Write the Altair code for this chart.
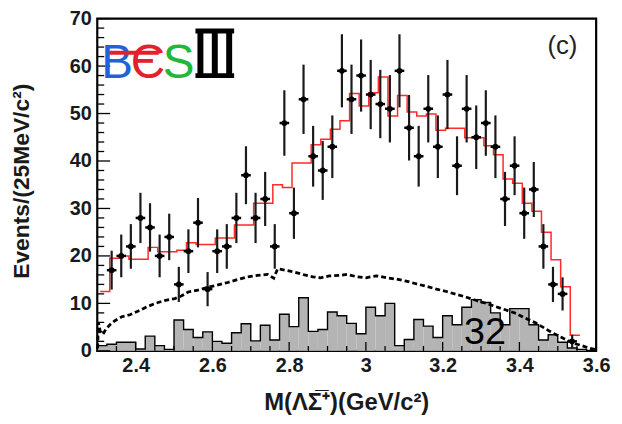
import altair as alt
import pandas as pd

# ---------------- data ----------------
data_x = [2.3375, 2.3625, 2.3875, 2.4125, 2.4375, 2.4625, 2.4875, 2.5125, 2.5375, 2.5625,
          2.5875, 2.6125, 2.6375, 2.6625, 2.6875, 2.7125, 2.7375, 2.7625, 2.7875, 2.8125,
          2.8375, 2.8625, 2.8875, 2.9125, 2.9375, 2.9625, 2.9875, 3.0125, 3.0375, 3.0625,
          3.0875, 3.1125, 3.1375, 3.1625, 3.1875, 3.2125, 3.2375, 3.2625, 3.2875, 3.3125,
          3.3375, 3.3625, 3.3875, 3.4125, 3.4375, 3.4625, 3.4875, 3.5125, 3.5375]
data_y = [17, 20, 22, 28, 26, 20, 24, 14, 21, 27,
          13, 21, 22, 28, 37, 28, 32, 22, 48, 29,
          53, 41, 38, 43, 59, 53, 58, 54, 52, 51,
          59, 47, 41, 51, 43, 54, 39, 51, 45, 48,
          43, 32, 39, 29, 34, 22, 14, 12, 2]
data_err = [4.1, 4.5, 4.7, 5.3, 5.1, 4.5, 4.9, 3.7, 4.6, 5.2,
            3.6, 4.6, 4.7, 5.3, 6.1, 5.3, 5.7, 4.7, 6.9, 5.4,
            7.3, 6.4, 6.2, 6.6, 7.7, 7.3, 7.6, 7.3, 7.2, 7.1,
            7.7, 6.9, 6.4, 7.1, 6.6, 7.3, 6.2, 7.1, 6.7, 6.9,
            6.6, 5.7, 6.2, 5.4, 5.8, 4.7, 3.7, 3.5, 1.4]

fit_edges = [2.3075, 2.3325, 2.3575, 2.3825, 2.4075, 2.4325, 2.4575, 2.4825, 2.5075, 2.5325,
             2.5575, 2.5825, 2.6075, 2.6325, 2.6575, 2.6825, 2.7075, 2.7325, 2.7575, 2.7825,
             2.8075, 2.8325, 2.8575, 2.8825, 2.9075, 2.9325, 2.9575, 2.9825, 3.0075, 3.0325,
             3.0575, 3.0825, 3.1075, 3.1325, 3.1575, 3.1825, 3.2075, 3.2325, 3.2575, 3.2825,
             3.3075, 3.3325, 3.3575, 3.3825, 3.4075, 3.4325, 3.4575, 3.4825, 3.5075, 3.5325,
             3.5575]
fit_vals = [12.5, 19.5, 20.0, 19.3, 19.3, 21.8, 20.9, 20.9, 21.2, 22.8,
            22.4, 22.4, 23.8, 23.8, 26.5, 26.5, 31.1, 31.1, 35.0, 34.4,
            39.6, 39.6, 43.4, 44.6, 46.7, 48.5, 54.2, 51.6, 54.4, 57.7,
            49.5, 53.8, 50.3, 49.5, 49.9, 46.5, 46.9, 46.9, 44.9, 44.9,
            43.2, 41.3, 36.2, 35.3, 31.1, 29.4, 25.0, 19.2, 13.5, 3.3,
            3.3]

bkg_x = [2.301, 2.303, 2.308, 2.315, 2.322, 2.333, 2.345, 2.364, 2.385, 2.407,
         2.430, 2.451, 2.475, 2.502, 2.520, 2.537, 2.562, 2.589, 2.615, 2.640,
         2.665, 2.692, 2.718, 2.744, 2.760, 2.770, 2.790, 2.813, 2.840, 2.862,
         2.882, 2.905, 2.930, 2.951, 2.977, 3.000, 3.028, 3.055, 3.080, 3.105,
         3.132, 3.158, 3.184, 3.210, 3.236, 3.262, 3.288, 3.314, 3.339, 3.365,
         3.391, 3.415, 3.442, 3.465, 3.486, 3.508, 3.528, 3.545, 3.563, 3.580,
         3.597]
bkg_y = [0.5, 6.0, 4.0, 3.5, 4.5, 5.5, 6.3, 7.2, 7.6, 8.4,
         9.3, 10.0, 10.6, 11.0, 11.6, 12.4, 12.8, 13.4, 13.9, 14.4,
         15.0, 15.6, 15.9, 16.1, 15.3, 17.3, 17.0, 16.6, 16.0, 15.6,
         15.4, 15.8, 15.9, 16.1, 15.6, 15.4, 15.8, 15.4, 15.1, 14.7,
         14.1, 13.6, 13.0, 12.5, 11.9, 11.3, 10.6, 10.0, 9.3, 8.6,
         7.9, 6.9, 5.9, 4.8, 3.8, 2.9, 2.1, 1.5, 1.1, 0.6,
         0.3]

sb_edges = [2.300, 2.325, 2.350, 2.375, 2.400, 2.425, 2.450, 2.475, 2.500, 2.525,
            2.550, 2.575, 2.600, 2.625, 2.650, 2.675, 2.700, 2.725, 2.750, 2.775,
            2.800, 2.825, 2.850, 2.875, 2.900, 2.925, 2.950, 2.975, 3.000, 3.025,
            3.050, 3.075, 3.100, 3.125, 3.150, 3.175, 3.200, 3.225, 3.250, 3.275,
            3.300, 3.325, 3.350, 3.375, 3.400, 3.425, 3.450, 3.475, 3.500, 3.525,
            3.550, 3.575, 3.600]
sb_vals = [1.1, 1.4, 1.8, 1.8, 0.4, 3.1, 1.1, 0.3, 6.5, 4.5,
           2.8, 4.0, 2.0, 1.6, 3.8, 5.7, 2.1, 5.4, 2.3, 7.7,
           5.1, 11.2, 4.1, 4.5, 8.2, 7.4, 5.8, 3.6, 9.2, 7.4,
           10.0, 1.1, 2.4, 6.6, 5.2, 2.8, 7.4, 5.5, 9.2, 10.8,
           10.2, 8.0, 5.5, 8.9, 8.9, 5.5, 2.3, 3.4, 1.8, 0.6,
           0.3, 0.0]

x_major = [2.4, 2.6, 2.8, 3.0, 3.2, 3.4, 3.6]
x_minor = [2.30, 2.35, 2.45, 2.50, 2.55, 2.65, 2.70, 2.75, 2.85, 2.90, 2.95,
           3.05, 3.10, 3.15, 3.25, 3.30, 3.35, 3.45, 3.50, 3.55]
y_major = [0, 10, 20, 30, 40, 50, 60, 70]
y_minor = [2, 4, 6, 8, 12, 14, 16, 18, 22, 24, 26, 28, 32, 34, 36, 38,
           42, 44, 46, 48, 52, 54, 56, 58, 62, 64, 66, 68]

x_title = "M(\u039b\u03a3\u0305\u207a)(GeV/c\u00b2)"
y_title = "Events/(25MeV/c\u00b2)"
panel_label = "(c)"
count_label = "32"
logo_letters = ["B", "\u0404", "S"]

# ---------------- chart ----------------
W, H = 503, 335
FONT = "Liberation Sans"

pts = pd.DataFrame({"x": data_x, "v": data_y, "e": data_err})
fit = pd.DataFrame({"x": fit_edges, "v": fit_vals})
bkg = pd.DataFrame({"x": bkg_x, "v": bkg_y})
sb = pd.DataFrame({"lo": sb_edges[:-1], "hi": sb_edges[1:], "v": sb_vals})
sb_line = pd.DataFrame({"x": sb_edges, "v": sb_vals + [sb_vals[-1]]})
xmaj = pd.DataFrame({"t": x_major})
xmin = pd.DataFrame({"t": x_minor})
ymaj = pd.DataFrame({"t": y_major})
ymin = pd.DataFrame({"t": y_minor})

xs = alt.Scale(domain=[2.3, 3.6], nice=False, zero=False)
ys = alt.Scale(domain=[0, 70], nice=False, zero=False)

x_axis = alt.Axis(values=x_major, format="~g", ticks=False, tickSize=0, domain=False,
                  grid=False, labelFont=FONT, labelFontWeight="bold", labelFontSize=20,
                  labelColor="#1a1a1a", labelPadding=5, labelFlush=False,
                  labelOverlap=False, labelBound=False, title=None)
y_axis = alt.Axis(values=y_major, format="d", ticks=False, tickSize=0, domain=False,
                  grid=False, labelFont=FONT, labelFontWeight="bold", labelFontSize=20,
                  labelColor="#1a1a1a", labelPadding=6, labelOverlap=False,
                  labelBound=False, title=None)


def X(field):
    return alt.X(field, scale=xs, axis=x_axis)


def Y(field):
    return alt.Y(field, scale=ys, axis=y_axis)


# grey histogram
sb_bars = alt.Chart(sb).mark_rect(fill="#b4b4b4").encode(
    x=X("lo:Q"), x2="hi:Q", y=Y("v:Q"), y2=alt.datum(0))
sb_outline = alt.Chart(sb_line).mark_line(interpolate="step-after", color="black",
                                           strokeWidth=1.4).encode(x=X("x:Q"), y=Y("v:Q"))

# dashed background curve
bkg_line = alt.Chart(bkg).mark_line(color="black", strokeWidth=2.8,
                                    strokeDash=[5, 3]).encode(x=X("x:Q"), y=Y("v:Q"))

# red fit histogram
fit_line = alt.Chart(fit).mark_line(interpolate="step-after", color="#ff2a2a",
                                    strokeWidth=1.5).encode(x=X("x:Q"), y=Y("v:Q"))

# data with error bars
base_pts = alt.Chart(pts).transform_calculate(
    lo="datum.v - datum.e", hi="datum.v + datum.e",
    xl="datum.x - 0.0125", xr="datum.x + 0.0125")
ebar = base_pts.mark_rule(color="#1a1a1a", strokeWidth=2.2).encode(
    x=X("x:Q"), y=Y("lo:Q"), y2="hi:Q")
xbar = base_pts.mark_rule(color="black", strokeWidth=2.5).encode(
    x=X("xl:Q"), x2="xr:Q", y=Y("v:Q"))
dots = base_pts.mark_point(filled=True, color="black", size=34, opacity=1,
                           shape="circle").encode(x=X("x:Q"), y=Y("v:Q"))


# inward ticks
def xticks(df, length):
    return alt.Chart(df).mark_rule(color="black", strokeWidth=1.3).encode(
        x=X("t:Q"), y=alt.value(H), y2=alt.value(H - length))


def yticks(df, length):
    return alt.Chart(df).mark_rule(color="black", strokeWidth=1.3).encode(
        y=Y("t:Q"), x=alt.value(0), x2=alt.value(length))


def label(txt, px, py, size, color="black", weight="normal", angle=0,
          align="center", baseline="alphabetic", font=FONT):
    kw = dict(text=txt, fontSize=size, color=color, fontWeight=weight, align=align,
              baseline=baseline, font=font)
    if angle:
        kw["angle"] = angle
    return alt.Chart(pd.DataFrame({"k": [0]})).mark_text(**kw).encode(
        x=alt.value(px), y=alt.value(py))


def deco_rule(x1, x2, y1, y2, color, width):
    return alt.Chart(pd.DataFrame({"k": [0]})).mark_rule(
        color=color, strokeWidth=width).encode(
        x=alt.value(x1), x2=alt.value(x2), y=alt.value(y1), y2=alt.value(y2))


# BESIII logo: letters as text, the roman "III" drawn with bars
logo = [
    label(logo_letters[0], 20, 60, 48, color="#1f63d8"),
    deco_rule(12, 62, 34.5, 34.5, "#e3202b", 4),
    label(logo_letters[1], 51, 60, 48, color="#e3202b"),
    label(logo_letters[2], 82, 60, 48, color="#20b838"),
    deco_rule(104, 104, 12, 58, "black", 6),
    deco_rule(118.5, 118.5, 12, 58, "black", 6),
    deco_rule(133, 133, 12, 58, "black", 6),
    deco_rule(99, 138, 12.5, 12.5, "black", 5),
    deco_rule(99, 138, 57.5, 57.5, "black", 5),
]

texts = [
    label(panel_label, 469, 36, 26, color="#222222"),
    label(count_label, 391, 328, 38),
    label(x_title, W / 2, 395, 24, weight="bold", color="#1a1a1a"),
    label(y_title, -76, 164, 23, weight="bold", color="#1a1a1a", angle=270,
          baseline="middle"),
]

chart = alt.layer(
    sb_bars, sb_outline, bkg_line, fit_line, ebar, xbar, dots,
    xticks(xmaj, 9), xticks(xmin, 5), yticks(ymaj, 13), yticks(ymin, 7),
    *logo, *texts,
).properties(
    width=W, height=H,
    padding={"left": 90, "top": 9, "right": 18, "bottom": 64},
    autosize=alt.AutoSizeParams(type="none"),
).configure_view(stroke="black", strokeWidth=2.2)

chart.save("out.html", embed_options={"renderer": "svg", "actions": False})
